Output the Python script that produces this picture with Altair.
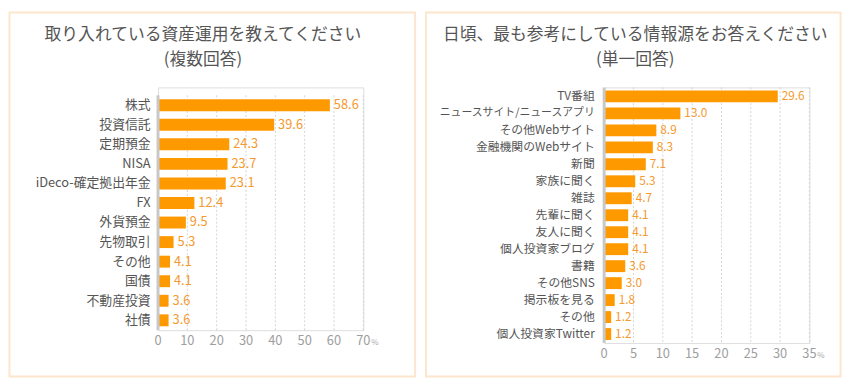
import altair as alt
import pandas as pd

FONT = "Noto Sans CJK JP"

asset_cats = ["株式", "投資信託", "定期預金", "NISA", "iDeco-確定拠出年金", "FX",
              "外貨預金", "先物取引", "その他", "国債", "不動産投資", "社債"]
asset_vals = [58.6, 39.6, 24.3, 23.7, 23.1, 12.4, 9.5, 5.3, 4.1, 4.1, 3.6, 3.6]
left_ticks = [0, 10, 20, 30, 40, 50, 60, 70]

source_cats = ["TV番組", "ニュースサイト/ニュースアプリ", "その他Webサイト", "金融機関のWebサイト",
               "新聞", "家族に聞く", "雑誌", "先輩に聞く", "友人に聞く", "個人投資家ブログ",
               "書籍", "その他SNS", "掲示板を見る", "その他", "個人投資家Twitter"]
source_vals = [29.6, 13.0, 8.9, 8.3, 7.1, 5.3, 4.7, 4.1, 4.1, 4.1, 3.6, 3.0, 1.8, 1.2, 1.2]
right_ticks = [0, 5, 10, 15, 20, 25, 30, 35]

left_title = ["取り入れている資産運用を教えてください", "(複数回答)"]
right_title = ["日頃、最も参考にしている情報源をお答えください", "(単一回答)"]

BAR = "#FF9900"
LABEL = "#F59A2E"
BORDER = "#FCE6CC"


def panel(cats, vals, ticks, xmax, titles, y0, y1, pi, po,
          label_size, label_pad, value_size, bx1, bx2, tx):
    df = pd.DataFrame({"c": cats, "v": vals})
    tdf = pd.DataFrame({"t": ticks[1:]})
    alltdf = pd.DataFrame({"t": ticks})
    one = pd.DataFrame({"k": [0]})

    xscale = alt.Scale(domain=[0, xmax], nice=False, zero=True)
    yscale = alt.Scale(range=[y0, y1], paddingInner=pi, paddingOuter=po)
    yaxis = alt.Axis(title=None, ticks=False, domain=False, labelPadding=label_pad,
                     labelFontSize=label_size, labelColor="#555555", labelFont=FONT,
                     labelLimit=400, labelOverlap=False, zindex=2)

    border = alt.Chart(one).mark_rect(filled=False, stroke=BORDER, strokeWidth=2).encode(
        x=alt.value(bx1), x2=alt.value(bx2), y=alt.value(-76), y2=alt.value(293))

    grid = alt.Chart(tdf).mark_rule(color="#d3d3d3", strokeDash=[2, 2], strokeWidth=1).encode(
        x=alt.X("t:Q", scale=xscale, axis=None), y=alt.value(y0), y2=alt.value(y1))

    ticklabels = alt.Chart(alltdf).mark_text(baseline="top", align="center", fontSize=13,
                                             color="#9e9e9e", font=FONT).encode(
        x=alt.X("t:Q", scale=xscale, axis=None), y=alt.value(y1 + 5),
        text=alt.Text("t:Q"))

    bars = alt.Chart(df).mark_bar(color=BAR).encode(
        x=alt.X("v:Q", scale=xscale, axis=None),
        y=alt.Y("c:N", sort=cats, scale=yscale, axis=yaxis))

    labels = alt.Chart(df).mark_text(align="left", baseline="middle", dx=4,
                                     color=LABEL, fontSize=value_size, font=FONT).encode(
        x=alt.X("v:Q", scale=xscale, axis=None),
        y=alt.Y("c:N", sort=cats, scale=yscale, axis=yaxis),
        text=alt.Text("v:Q", format=".1f"))

    domain = alt.Chart(one).mark_rule(color="#c8c8c8", strokeWidth=3).encode(
        x=alt.datum(0), y=alt.value(y0), y2=alt.value(y1))

    t1 = alt.Chart(one).mark_text(text=titles[0], fontSize=17, color="#555555", font=FONT,
                                  align="center", baseline="middle").encode(
        x=alt.value(tx), y=alt.value(-53))
    t2 = alt.Chart(one).mark_text(text=titles[1], fontSize=17, color="#555555", font=FONT,
                                  align="center", baseline="middle").encode(
        x=alt.value(tx), y=alt.value(-28))

    pct = alt.Chart(one).mark_text(text="%", fontSize=8, color="#aaaaaa", font=FONT,
                                   align="left", baseline="alphabetic", dx=8).encode(
        x=alt.datum(xmax), y=alt.value(y1 + 15))

    return alt.layer(border, grid, ticklabels, bars, labels, domain, t1, t2, pct).properties(
        width=208, height=y1)


left = panel(asset_cats, asset_vals, left_ticks, 70, left_title, 8, 246, 0.39, 0.2,
             13, 8, 13, -150.5, 260.5, 45.5)
right_label_size = {"condition": {"test": "length(datum.label) > 12", "value": 11},
                    "value": 12}
right = panel(source_cats, source_vals, right_ticks, 35, right_title, 0, 259, 0.30, 0.18,
              right_label_size, 10, 12, -180.5, 239.5, 31.5)

chart = alt.hconcat(left, right, spacing=244, bounds="flush").properties(
    padding=0).configure_view(stroke=None).configure(font=FONT)

chart.save("out.html", embed_options={"renderer": "svg", "actions": False})
